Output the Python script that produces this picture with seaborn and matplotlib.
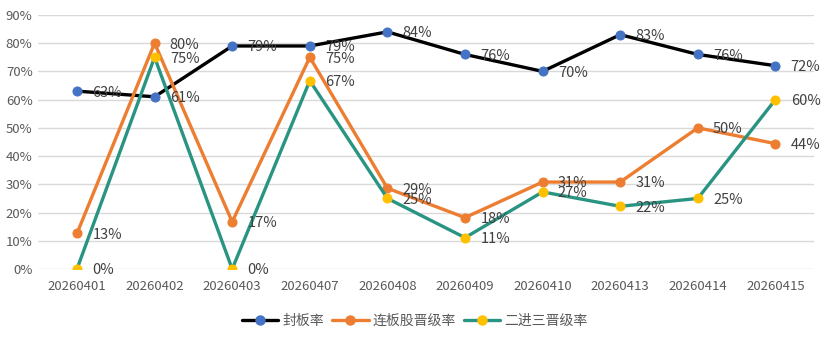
import matplotlib
matplotlib.use("Agg")
import matplotlib.pyplot as plt
from matplotlib.lines import Line2D
from matplotlib.ticker import PercentFormatter
import seaborn as sns
import pandas as pd

dates = ["20260401", "20260402", "20260403", "20260407", "20260408",
         "20260409", "20260410", "20260413", "20260414", "20260415"]
seal_rate = [0.63, 0.61, 0.79, 0.79, 0.84, 0.76, 0.70, 0.83, 0.76, 0.72]
board_promo = [0.126, 0.80, 0.167, 0.75, 0.286, 0.182, 0.308, 0.308, 0.50, 0.444]
two_three_promo = [0.0, 0.75, 0.0, 0.667, 0.25, 0.111, 0.273, 0.222, 0.25, 0.60]
series_names = ["封板率", "连板股晋级率", "二进三晋级率"]

sns.set_theme(style="white")
plt.rcParams['font.family'] = ['Noto Sans CJK SC', 'DejaVu Sans']

fig = plt.figure(figsize=(8.3, 3.39), dpi=100)
ax = fig.add_axes([0.046, 0.2065, 0.935, 0.7495])

line_colors = ["#000000", "#ED7D31", "#2A9483"]
marker_colors = ["#4472C4", "#ED7D31", "#FFC000"]
values = [seal_rate, board_promo, two_three_promo]

for name, vals, lc, mc in zip(series_names, values, line_colors, marker_colors):
    df = pd.DataFrame({"date": dates, "value": vals})
    sns.lineplot(data=df, x="date", y="value", ax=ax, color=lc, linewidth=2.4,
                 marker="o", markersize=6.5, markerfacecolor=mc, markeredgecolor=mc,
                 sort=False, legend=False, zorder=3)
    for i, v in enumerate(vals):
        ax.annotate(f"{int(v * 100 + 0.5)}%", (i, v), xytext=(11, -1), textcoords="offset points",
                    va="center", ha="left", fontsize=10.5, color="#404040", zorder=4)

ax.set_ylim(0, 0.9)
ax.set_xlim(-0.5, len(dates) - 0.5)
ax.set_yticks([i / 10 for i in range(10)])
ax.yaxis.set_major_formatter(PercentFormatter(1.0, decimals=0))
ax.grid(axis="y", color="#D9D9D9", linewidth=1)
ax.set_axisbelow(True)
for s in ax.spines.values():
    s.set_visible(False)
ax.set_xlabel("")
ax.set_ylabel("")
ax.tick_params(axis="both", labelsize=9.5, colors="#595959", length=0)
ax.tick_params(axis="x", pad=8)
ax.tick_params(axis="y", pad=4)

handles = [Line2D([0], [0], color=lc, linewidth=2.4, marker="o", markersize=6.5,
                  markerfacecolor=mc, markeredgecolor=mc)
           for lc, mc in zip(line_colors, marker_colors)]
leg = fig.legend(handles, series_names, loc="center", bbox_to_anchor=(0.5, 0.053),
                 ncol=3, frameon=False, fontsize=10, handlelength=2.6,
                 columnspacing=0.6, handletextpad=0.3)
for t in leg.get_texts():
    t.set_color("#595959")

fig.savefig("out.png", dpi=100)
